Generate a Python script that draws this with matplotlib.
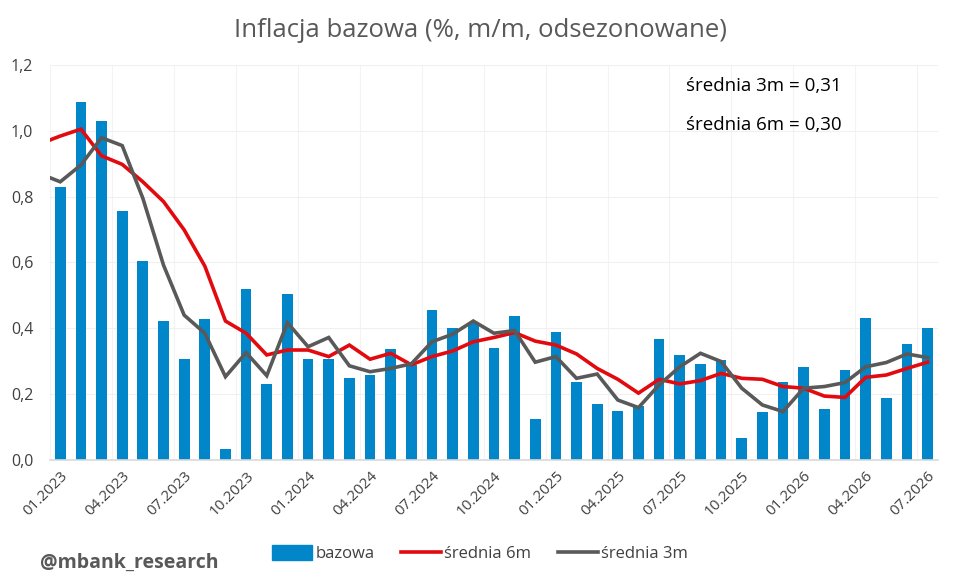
import numpy as np
import matplotlib
matplotlib.use('Agg')
import matplotlib.pyplot as plt
from matplotlib.patches import Patch
from matplotlib.lines import Line2D

# --- Dane ---
# miesiące 01.2023 - 07.2026
MIESIACE = [f'{m:02d}.{r}' for r in range(2023, 2027) for m in range(1, 13)][:43]

BAZOWA = [0.830, 1.087, 1.031, 0.757, 0.603, 0.422, 0.306, 0.427, 0.034, 0.518,
          0.231, 0.505, 0.308, 0.306, 0.250, 0.258, 0.337, 0.289, 0.456, 0.402,
          0.417, 0.341, 0.438, 0.124, 0.390, 0.238, 0.169, 0.150, 0.165, 0.367,
          0.319, 0.290, 0.304, 0.066, 0.145, 0.236, 0.282, 0.155, 0.273, 0.430,
          0.187, 0.352, 0.400]

# średnie od 12.2022 (pierwszy punkt częściowo poza osią)
SREDNIA_6M = [0.960, 0.984, 1.005, 0.924, 0.898, 0.845, 0.785, 0.699, 0.589, 0.422,
              0.385, 0.319, 0.334, 0.334, 0.314, 0.349, 0.306, 0.324, 0.289, 0.314,
              0.331, 0.359, 0.372, 0.387, 0.361, 0.349, 0.322, 0.278, 0.245, 0.203,
              0.245, 0.231, 0.241, 0.263, 0.248, 0.245, 0.223, 0.218, 0.194, 0.190,
              0.251, 0.258, 0.278, 0.297]

SREDNIA_3M = [0.870, 0.845, 0.896, 0.979, 0.955, 0.795, 0.592, 0.440, 0.385, 0.253,
              0.326, 0.256, 0.417, 0.344, 0.372, 0.286, 0.268, 0.278, 0.292, 0.359,
              0.382, 0.422, 0.385, 0.393, 0.297, 0.314, 0.248, 0.261, 0.182, 0.159,
              0.228, 0.283, 0.324, 0.299, 0.218, 0.167, 0.147, 0.218, 0.223, 0.235,
              0.283, 0.296, 0.322, 0.311]

Y_TICKS = [0.0, 0.2, 0.4, 0.6, 0.8, 1.0, 1.2]

KOLOR_BAR = '#0086C9'
KOLOR_6M = '#E20A0F'
KOLOR_3M = '#595959'
KOLOR_TEKST = '#404040'

plt.rcParams['font.family'] = ['Open Sans', 'DejaVu Sans']

fig = plt.figure(figsize=(9.6, 5.8), dpi=100)
ax = fig.add_axes([0.052, 0.207, 0.925, 0.681])

x = np.arange(len(BAZOWA))
x_sr = np.arange(-1, len(BAZOWA))

ax.bar(x, BAZOWA, width=0.52, color=KOLOR_BAR, zorder=2)
ax.plot(x_sr, SREDNIA_6M, color=KOLOR_6M, lw=2.6, zorder=3, solid_joinstyle='miter')
ax.plot(x_sr, SREDNIA_3M, color=KOLOR_3M, lw=2.6, zorder=3, solid_joinstyle='miter')

ax.set_xlim(-0.5, len(BAZOWA) - 0.5)
ax.set_ylim(0, 1.2)

# siatka
ax.set_yticks(Y_TICKS)
ax.set_yticklabels([f'{v:.1f}'.replace('.', ',') for v in Y_TICKS],
                   fontsize=11.5, color=KOLOR_TEKST)
ax.set_xticks(x[::3])
ax.set_xticklabels(MIESIACE[::3], rotation=45, ha='right', rotation_mode='anchor',
                   fontsize=11, color=KOLOR_TEKST)
ax.set_xticks(np.arange(-0.5, len(BAZOWA), 3), minor=True)
ax.grid(axis='y', color='#F0F0F0', lw=0.8, zorder=0)
ax.grid(axis='x', which='minor', color='#F3F3F3', lw=0.8, zorder=0)
ax.tick_params(axis='both', which='both', length=0)
ax.tick_params(axis='y', pad=12)
ax.tick_params(axis='x', pad=6)
for s in ['top', 'right', 'left']:
    ax.spines[s].set_visible(False)
ax.spines['bottom'].set_color('#D9D9D9')
ax.spines['bottom'].set_linewidth(1.2)

fig.text(0.5, 0.948, 'Inflacja bazowa (%, m/m, odsezonowane)', ha='center', va='center',
         fontsize=18.5, color='#595959')
fig.text(0.715, 0.852, 'średnia 3m = 0,31', ha='left', va='center', fontsize=13.5, color='black')
fig.text(0.715, 0.785, 'średnia 6m = 0,30', ha='left', va='center', fontsize=13.5, color='black')
fig.text(0.042, 0.029, '@mbank_research', ha='left', va='center', fontsize=14,
         fontweight='bold', color='#595959')

uchwyty = [Patch(color=KOLOR_BAR, label='bazowa'),
           Line2D([0], [0], color=KOLOR_6M, lw=2.6, label='średnia 6m'),
           Line2D([0], [0], color=KOLOR_3M, lw=2.6, label='średnia 3m')]
fig.legend(handles=uchwyty, loc='center', bbox_to_anchor=(0.5, 0.045), ncol=3,
           frameon=False, fontsize=12, handlelength=2.4, handleheight=1.0,
           handletextpad=0.2, columnspacing=1.6, labelcolor=KOLOR_TEKST)

fig.savefig('out.png', dpi=100, facecolor='white')
